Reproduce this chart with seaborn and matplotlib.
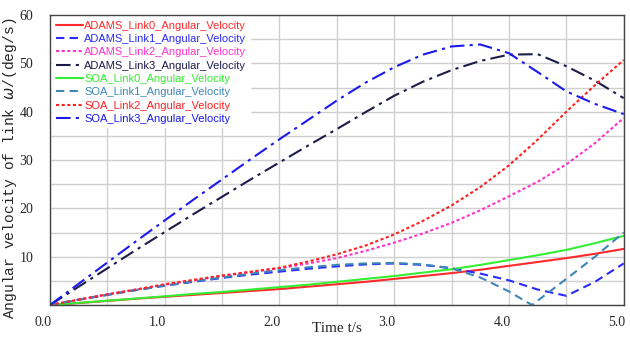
import numpy as np
import pandas as pd
import matplotlib
matplotlib.use("Agg")
import matplotlib.pyplot as plt
import matplotlib.transforms as mtransforms
import seaborn as sns

time = [0, 0.25, 0.5, 0.75, 1.0, 1.25, 1.5, 1.75, 2.0, 2.25, 2.5, 2.75,
        3.0, 3.25, 3.5, 3.75, 4.0, 4.25, 4.5, 4.75, 5.0]

adams_link0 = [0, 0.4, 0.85, 1.3, 1.7, 2.1, 2.5, 2.9, 3.3, 3.8, 4.3, 4.8,
               5.4, 6.0, 6.6, 7.3, 8.1, 8.9, 9.7, 10.6, 11.6]
adams_link1 = [0, 1.1, 2.1, 3.1, 4.0, 4.8, 5.6, 6.3, 6.9, 7.5, 8.0, 8.4,
               8.6, 8.3, 7.6, 6.5, 5.1, 3.2, 1.9, 4.8, 8.6]
adams_link2 = [0, 1.1, 2.2, 3.2, 4.2, 5.1, 6.0, 6.8, 7.6, 8.6, 9.7, 11.2,
               12.9, 14.8, 17.0, 19.6, 22.5, 25.5, 29.1, 33.5, 38.7]
adams_link3 = [0, 3.8, 7.6, 11.4, 15.1, 18.8, 22.4, 26.0, 29.5, 33.0, 36.4, 39.9,
               43.3, 46.2, 48.6, 50.5, 51.8, 51.9, 49.4, 46.4, 42.8]

soa_link0 = [0, 0.45, 0.9, 1.35, 1.8, 2.3, 2.7, 3.2, 3.7, 4.2, 4.8, 5.4,
             6.0, 6.7, 7.4, 8.3, 9.3, 10.3, 11.4, 12.8, 14.3]
soa_time1 = [0, 0.25, 0.5, 0.75, 1.0, 1.25, 1.5, 1.75, 2.0, 2.25, 2.5, 2.75,
             3.0, 3.25, 3.5, 3.75, 4.0, 4.2, 4.5, 4.75, 5.0]
soa_link1 = [0, 1.1, 2.1, 3.1, 4.0, 4.9, 5.7, 6.5, 7.2, 7.8, 8.3, 8.6,
             8.7, 8.4, 7.6, 5.7, 2.8, 0.0, 5.4, 10.0, 15.0]
soa_link2 = [0, 1.1, 2.2, 3.2, 4.3, 5.2, 6.1, 6.9, 7.7, 9.0, 10.5, 12.3,
             14.6, 17.4, 20.6, 24.4, 28.9, 34.2, 40.0, 45.5, 50.7]
soa_link3 = [0, 4.4, 8.8, 13.2, 17.5, 21.8, 26.0, 30.2, 34.3, 38.3, 42.3, 46.0,
             49.2, 51.8, 53.5, 53.9, 52.1, 48.2, 44.2, 41.6, 39.5]

series = [
    ("ADAMS_Link0_Angular_Velocity", time, adams_link0, "#ff2a2a", "-"),
    ("ADAMS_Link1_Angular_Velocity", time, adams_link1, "#2a2aff", (0, (4, 2.5))),
    ("ADAMS_Link2_Angular_Velocity", time, adams_link2, "#ff33cc", (0, (1.5, 1.2))),
    ("ADAMS_Link3_Angular_Velocity", time, adams_link3, "#1c1c4c", (0, (7, 2.5, 1.5, 2.5))),
    ("SOA_Link0_Angular_Velocity", time, soa_link0, "#33ee33", "-"),
    ("SOA_Link1_Angular_Velocity", soa_time1, soa_link1, "#3d86b8", (0, (4, 2.5))),
    ("SOA_Link2_Angular_Velocity", time, soa_link2, "#ff2020", (0, (1.5, 1.2))),
    ("SOA_Link3_Angular_Velocity", time, soa_link3, "#1a1aee", (0, (7, 2.5, 1.5, 2.5))),
]

sns.set_style("white")
fig = plt.figure(figsize=(6.3, 3.38), dpi=100)
ax = fig.add_axes([0.0794, 0.0976, 0.9106, 0.858])

for name, t, v, c, ls in series:
    df = pd.DataFrame({"t": t, "v": v})
    sns.lineplot(data=df, x="t", y="v", ax=ax, color=c, linestyle=ls,
                 linewidth=1.5, label=name)

ax.set_xlim(0, 5)
ax.set_ylim(0, 60)
ax.set_xticks(np.arange(0, 5.01, 1.0))
ax.set_xticks(np.arange(0, 5.01, 0.5), minor=True)
ax.set_yticks(np.arange(0, 60.1, 10))
ax.set_yticks(np.arange(0, 60.1, 5), minor=True)
ax.set_xticklabels(["0.0", "1.0", "2.0", "3.0", "4.0", "5.0"],
                   fontfamily="Liberation Serif", fontsize=10)
ax.set_yticklabels(["", "10", "20", "30", "40", "50", "60"],
                   fontfamily="Liberation Serif", fontsize=10)
ax.grid(True, which="both", color="#cfcfcf", linewidth=1.0)
ax.set_axisbelow(True)
ax.tick_params(axis="both", which="both", direction="in", length=3,
               color="#555555")
ax.tick_params(axis="x", pad=8)
ax.tick_params(axis="y", pad=12)
for sp in ax.spines.values():
    sp.set_color("#444444")
    sp.set_linewidth(1.0)

offset = mtransforms.ScaledTranslation(-7 / 100, 0, fig.dpi_scale_trans)
for lbl in ax.get_xticklabels():
    lbl.set_transform(lbl.get_transform() + offset)

ax.set_xlabel("Time t/s", fontfamily="Liberation Serif", fontsize=11, labelpad=-5)
ax.set_ylabel("Angular velocity of link $\\omega$/(deg/s)",
              fontfamily="Liberation Mono", fontsize=10.5)
ax.yaxis.set_label_coords(-0.054, 0.47)

leg = ax.legend(loc="upper left", bbox_to_anchor=(0.0, 1.0),
                prop={"family": "Liberation Sans", "size": 8},
                frameon=True, fancybox=False, framealpha=1.0,
                edgecolor="white", handlelength=2.5, handletextpad=0.1,
                labelspacing=0.3, borderpad=0.3, borderaxespad=0.2)
for text, (_, _, _, c, _) in zip(leg.get_texts(), series):
    text.set_color(c)

fig.savefig("out.png", dpi=100)
